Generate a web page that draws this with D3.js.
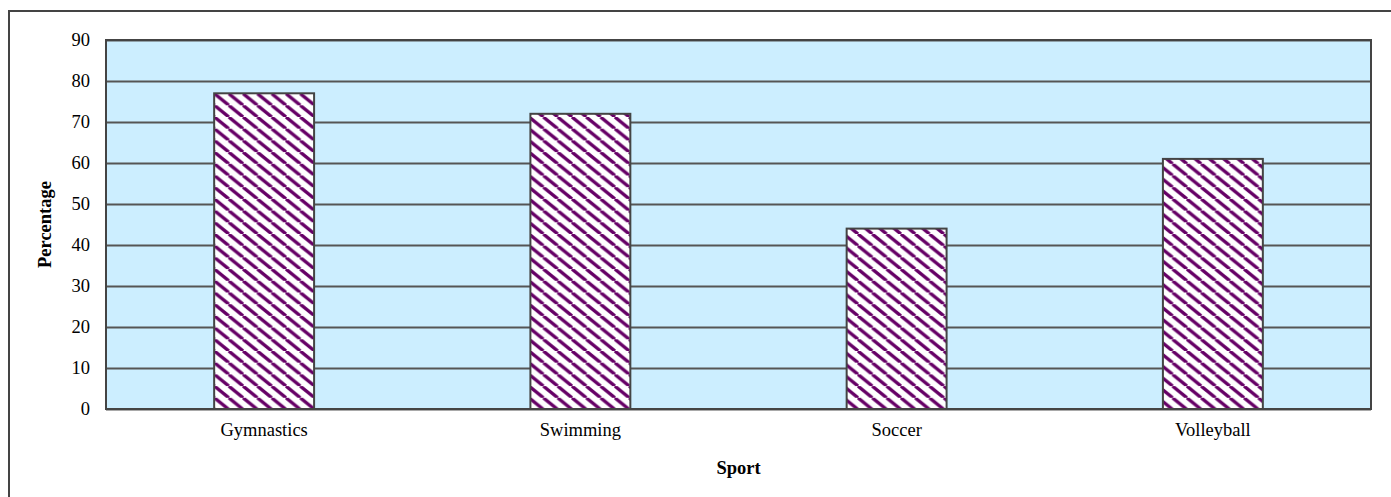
<!DOCTYPE html>
<html>
<head>
<meta charset="utf-8">
<script src="https://cdn.jsdelivr.net/npm/d3@7"></script>
<style>
  html, body { margin: 0; padding: 0; background: #fff; overflow: hidden; }
  svg { display: block; }
  svg text { font-family: 'Liberation Serif', 'Times New Roman', 'DejaVu Serif', serif !important; fill: #000; }
</style>
</head>
<body>
<svg id="chart" width="1391" height="497"></svg>
<script>
const sports = ['Gymnastics', 'Swimming', 'Soccer', 'Volleyball'];
const percentages = [77, 72, 44, 61];
const yTicks = [0, 10, 20, 30, 40, 50, 60, 70, 80, 90];

const svg = d3.select('#chart');
const margin = { top: 40, left: 106, right: 20, bottom: 88 };
const width = 1391;
const height = 497;
const plotRight = width - margin.right;
const plotBottom = height - margin.bottom;
const fontSize = 18.5;

// outer frame (clipped at right and bottom like the reference)
svg.append('rect')
  .attr('x', 9).attr('y', 11)
  .attr('width', 1420).attr('height', 520)
  .attr('fill', 'none')
  .attr('stroke', '#444')
  .attr('stroke-width', 2);

const defs = svg.append('defs');
const pw = 14.3;
const ph = 11.7;
const pattern = defs.append('pattern')
  .attr('id', 'stripes')
  .attr('patternUnits', 'userSpaceOnUse')
  .attr('width', pw)
  .attr('height', ph);
pattern.append('rect').attr('width', pw).attr('height', ph).attr('fill', '#fff');
[-pw, 0, pw].forEach(dx => {
  pattern.append('line')
    .attr('x1', dx).attr('y1', 0)
    .attr('x2', dx + pw).attr('y2', ph)
    .attr('stroke', '#660066')
    .attr('stroke-width', 3.3);
});

const x = d3.scaleBand()
  .domain(sports)
  .range([margin.left, plotRight])
  .paddingInner(0.684)
  .paddingOuter(0.342);

const y = d3.scaleLinear()
  .domain([0, 90])
  .range([plotBottom, margin.top]);

// plot background
svg.append('rect')
  .attr('x', margin.left).attr('y', margin.top)
  .attr('width', plotRight - margin.left)
  .attr('height', plotBottom - margin.top)
  .attr('fill', '#cceeff');

// gridlines
const grid = svg.append('g')
  .attr('transform', `translate(${margin.left},0)`)
  .call(d3.axisLeft(y).tickValues(yTicks).tickSize(-(plotRight - margin.left)).tickFormat(''));
grid.select('.domain').remove();
grid.selectAll('line').attr('stroke', '#555').attr('stroke-width', 2);

// bars
svg.append('g')
  .selectAll('rect')
  .data(sports)
  .join('rect')
  .attr('x', d => x(d))
  .attr('y', (d, i) => y(percentages[i]))
  .attr('width', x.bandwidth())
  .attr('height', (d, i) => y(0) - y(percentages[i]))
  .attr('fill', 'url(#stripes)')
  .attr('stroke', '#444')
  .attr('stroke-width', 2);

// plot border
svg.append('rect')
  .attr('x', margin.left).attr('y', margin.top)
  .attr('width', plotRight - margin.left)
  .attr('height', plotBottom - margin.top)
  .attr('fill', 'none')
  .attr('stroke', '#444')
  .attr('stroke-width', 2);

// y axis labels
const yAxis = svg.append('g')
  .attr('transform', `translate(${margin.left},0)`)
  .call(d3.axisLeft(y).tickValues(yTicks).tickSize(0).tickPadding(16));
yAxis.attr('font-size', fontSize).attr('font-family', null);
yAxis.select('.domain').remove();

// x axis labels
const xAxis = svg.append('g')
  .attr('transform', `translate(0,${plotBottom})`)
  .call(d3.axisBottom(x).tickSize(0).tickPadding(14));
xAxis.attr('font-size', fontSize).attr('font-family', null);
xAxis.select('.domain').remove();

svg.append('text')
  .attr('x', (margin.left + plotRight) / 2)
  .attr('y', 474)
  .attr('text-anchor', 'middle')
  .attr('font-size', fontSize)
  .attr('font-weight', 'bold')
  .text('Sport');

svg.append('text')
  .attr('transform', `translate(51,${(margin.top + plotBottom) / 2}) rotate(-90)`)
  .attr('text-anchor', 'middle')
  .attr('font-size', fontSize)
  .attr('font-weight', 'bold')
  .text('Percentage');
</script>
</body>
</html>
